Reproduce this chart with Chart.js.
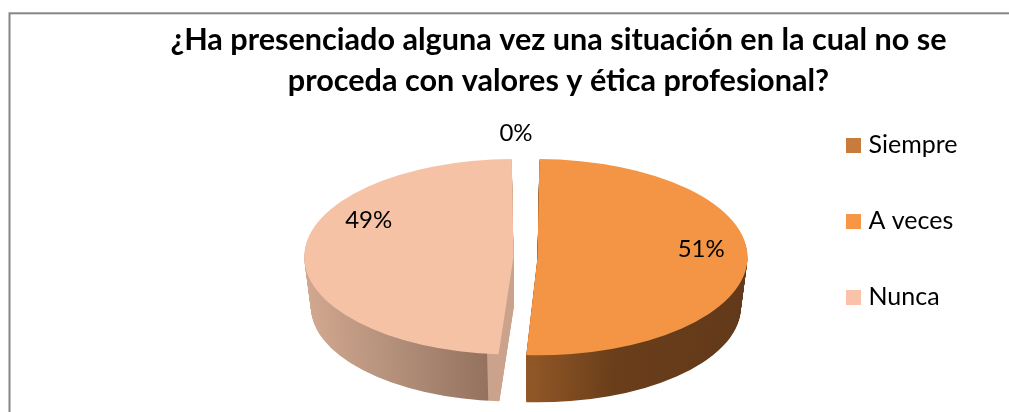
<!DOCTYPE html>
<html><head><meta charset="utf-8">
<style>html,body{margin:0;padding:0;background:#fff}canvas{display:block}</style>
<script src="https://cdn.jsdelivr.net/npm/chart.js@4/dist/chart.umd.min.js"></script>
</head><body><canvas id="c" width="1009" height="412"></canvas>
<script>
const titleLines = ['¿Ha presenciado alguna vez una situación en la cual no se', 'proceda con valores y ética profesional?'];
const categories = ['Siempre', 'A veces', 'Nunca'];
const percentages = [0, 51, 49];
const topColors = ['#C77C3B', '#F49545', '#F6C2A5'];
const legendColors = ['#C77C3B', '#F79646', '#FAC2A8'];
const FONT = 'Lato, Carlito, sans-serif';

const view = {cx: 525.5, cy: 257, squash: 0.467, depth: 50, taper: 0.03};
const sides = [null,
  {from: -2, to: 224, stops: [[0,'#8F5626'],[0.35,'#6A3E1A'],[1,'#61391A']]},
  {from: -222, to: -10, stops: [[0,'#D6AB92'],[0.55,'#AE8B76'],[0.92,'#94725E'],[0.925,'#CBA38C'],[1,'#CBA38C']]}
];
const labelPlace = [{k:1.2,dx:-9.5,dy:0},{k:0.78,dx:0,dy:-10},{k:0.69,dx:0,dy:-34}];

function swatch(color){
  const s = document.createElement('canvas'); s.width = 15; s.height = 15;
  const g = s.getContext('2d'); g.fillStyle = color; g.fillRect(0,0,15,15);
  return s;
}

const pie3d = {
  id: 'pie3d',
  beforeDraw(chart){
    const ctx = chart.ctx;
    ctx.save(); ctx.strokeStyle = '#868686'; ctx.lineWidth = 2;
    ctx.strokeRect(9.5, 13.3, 1400, 800); ctx.restore();
  },
  beforeDatasetDraw(chart){
    const ctx = chart.ctx, arcs = chart.getDatasetMeta(0).data;
    for (let t = view.depth; t >= 1; t--) {
      const s = 1 - view.taper * t / view.depth;
      arcs.forEach((arc, i) => {
        if (!sides[i]) return;
        const side = sides[i], off = arc.x - view.cx;
        const g = ctx.createLinearGradient(view.cx + side.from + off, 0, view.cx + side.to + off, 0);
        side.stops.forEach(p => g.addColorStop(p[0], p[1]));
        const orig = arc.options.backgroundColor;
        arc.options.backgroundColor = g;
        ctx.save();
        ctx.translate(view.cx, view.cy + t);
        ctx.scale(s, view.squash * s);
        ctx.translate(-arc.x, -arc.y);
        arc.draw(ctx);
        ctx.restore();
        arc.options.backgroundColor = orig;
      });
    }
    const a0 = arcs[0];
    ctx.save();
    ctx.translate(view.cx, view.cy);
    ctx.scale(1, view.squash);
    ctx.translate(-a0.x, -a0.y);
  },
  afterDatasetDraw(chart){ chart.ctx.restore(); },
  afterDraw(chart){
    const ctx = chart.ctx, arcs = chart.getDatasetMeta(0).data;
    ctx.save();
    ctx.fillStyle = '#000'; ctx.textAlign = 'center'; ctx.textBaseline = 'middle';
    ctx.font = '24px ' + FONT;
    arcs.forEach((arc, i) => {
      const mid = (arc.startAngle + arc.endAngle) / 2, p = labelPlace[i];
      const shift = arc.options.offset / 4;
      const r = shift + (arc.outerRadius + shift) * p.k;
      ctx.fillText(percentages[i] + '%', view.cx + Math.cos(mid) * r + p.dx,
        view.cy + Math.sin(mid) * r * view.squash + p.dy);
    });
    ctx.restore();
  }
};

new Chart(document.getElementById('c'), {
  type: 'pie',
  data: {labels: categories, datasets: [{data: percentages, backgroundColor: topColors, borderWidth: 0, offset: 48, radius: 198}]},
  plugins: [pie3d],
  options: {
    responsive: false, animation: false, events: [],
    layout: {padding: {left: 149.5, right: 41.5, top: 30, bottom: 0}},
    plugins: {
      tooltip: {enabled: false},
      title: {display: true, text: titleLines, color: '#000',
        font: {family: FONT, size: 30.6, weight: 'bold', lineHeight: 1.33},
        padding: {top: -10, bottom: 5}},
      legend: {position: 'right', labels: {
        font: {family: FONT, size: 25}, color: '#000', padding: 51,
        usePointStyle: true, pointStyleWidth: 5, boxHeight: 15,
        generateLabels: () => categories.map((t, i) => ({text: t, fillStyle: legendColors[i], strokeStyle: legendColors[i], lineWidth: 0, hidden: false, index: i, pointStyle: swatch(legendColors[i])}))
      }}
    }
  }
});
</script></body></html>
